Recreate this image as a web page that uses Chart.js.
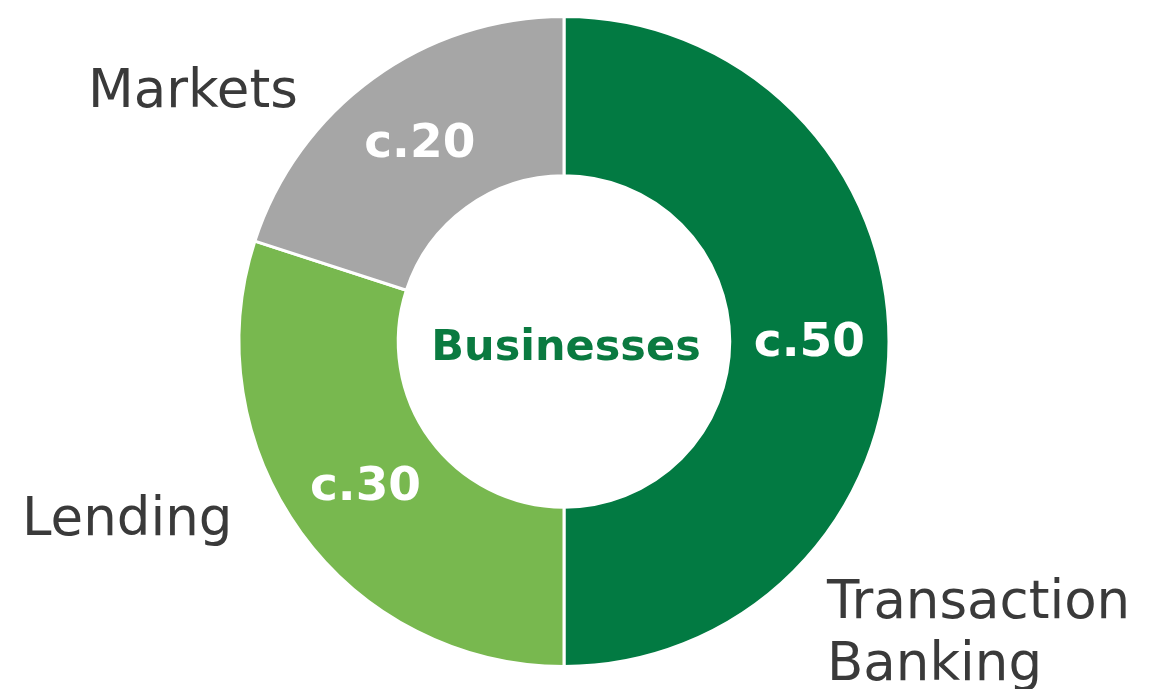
<!DOCTYPE html>
<html>
<head>
<meta charset="utf-8">
<script src="https://cdn.jsdelivr.net/npm/chart.js@4/dist/chart.umd.min.js"></script>
<style>
  html, body { margin: 0; padding: 0; background: #fff; }
  #wrap { width: 1150px; height: 689px; position: relative; }
</style>
</head>
<body>
<div id="wrap"><canvas id="chartNegocios"></canvas></div>
<script>
// --- Datos ---
const categorias = ['Transaction Banking', 'Lending', 'Markets'];
const valores = [50, 30, 20];
const etiquetasValor = ['c.50', 'c.30', 'c.20'];
const colores = ['#027a42', '#78b84f', '#a6a6a6'];
const textoCentro = 'Businesses';

// Posicion de los nombres fuera del anillo (x izquierda, linea base)
const posNombres = [
    { lineas: ['Transaction', 'Banking'], x: 827, y: 618, salto: 62 },
    { lineas: ['Lending'], x: 22, y: 535, salto: 0 },
    { lineas: ['Markets'], x: 88, y: 107, salto: 0 }
];

const FUENTE = '"DejaVu Sans", "Noto Sans", sans-serif';

// Plugin para escribir valores, nombres y el texto del centro
const etiquetasPlugin = {
    id: 'etiquetasPlugin',
    afterDatasetsDraw(chart) {
        const ctx = chart.ctx;
        const meta = chart.getDatasetMeta(0);
        ctx.save();

        // valores dentro de cada segmento
        ctx.fillStyle = '#ffffff';
        ctx.font = 'bold 47px ' + FUENTE;
        ctx.textAlign = 'center';
        ctx.textBaseline = 'middle';
        meta.data.forEach((arc, i) => {
            const p = arc.tooltipPosition();
            ctx.fillText(etiquetasValor[i], p.x, p.y + 2);
        });

        // texto central
        const c = meta.data[0];
        ctx.fillStyle = '#0a7a40';
        ctx.font = 'bold 43px ' + FUENTE;
        ctx.fillText(textoCentro, c.x + 2, c.y + 7);

        // nombres de categoria
        ctx.fillStyle = '#3a3a3a';
        ctx.font = '53px ' + FUENTE;
        ctx.textAlign = 'left';
        ctx.textBaseline = 'alphabetic';
        posNombres.forEach(n => {
            n.lineas.forEach((t, k) => ctx.fillText(t, n.x, n.y + k * n.salto));
        });
        ctx.restore();
    }
};

new Chart(document.getElementById('chartNegocios'), {
    type: 'doughnut',
    data: {
        labels: categorias,
        datasets: [{
            data: valores,
            backgroundColor: colores,
            borderColor: '#ffffff',
            borderWidth: 3,
            hoverOffset: 0
        }]
    },
    options: {
        responsive: true,
        maintainAspectRatio: false,
        animation: false,
        cutout: '51%',
        layout: { padding: { top: 15, bottom: 21, left: 0, right: 22 } },
        plugins: {
            legend: { display: false },
            tooltip: { enabled: false }
        }
    },
    plugins: [etiquetasPlugin]
});
</script>
</body>
</html>
